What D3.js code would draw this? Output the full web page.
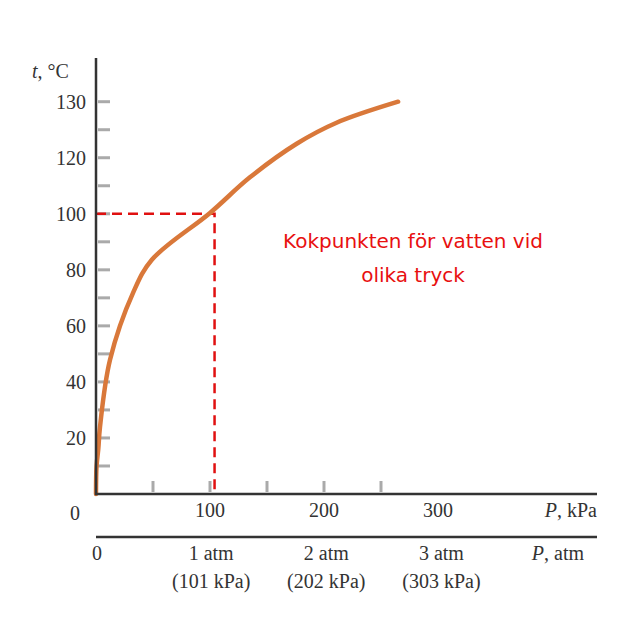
<!DOCTYPE html>
<html><head><meta charset="utf-8">
<script src="https://cdn.jsdelivr.net/npm/d3@7"></script>
<style>body{margin:0;background:#fff}</style>
</head><body>
<script>
// boiling point of water vs pressure
const pressureKPa = [0, 0.5, 2, 3.5, 12.3, 32.5, 49, 100, 135, 176, 211, 265];
const tempC       = [0, 10, 16, 23.9, 47.9, 71.8, 83.6, 100.3, 113, 125, 132.5, 140];
const yTickVals = [20, 40, 60, 80, 100, 120, 140];
const yTickLabels = ["20", "40", "60", "80", "100", "120", "130"];
const yMinor = d3.range(10, 141, 10);
const xTickVals = [100, 200, 300];
const xMinor = [50, 100, 150, 200, 250];
const atmVals = [101, 202, 303];
const atmLabels = ["1 atm", "2 atm", "3 atm"];
const atmSub = ["(101 kPa)", "(202 kPa)", "(303 kPa)"];
const refP = 104, refT = 100;

const W = 643, H = 622;
const x = d3.scaleLinear().domain([0, 300]).range([96, 438]);
const y = d3.scaleLinear().domain([0, 140]).range([494, 101.7]);

const svg = d3.select("body").append("svg").attr("width", W).attr("height", H);
const serif = "'Liberation Serif', 'DejaVu Serif', serif";
const axisCol = "#333";

// minor ticks
svg.append("g").selectAll("line").data(yMinor).join("line")
  .attr("x1", 98).attr("x2", 110).attr("y1", d => y(d)).attr("y2", d => y(d))
  .attr("stroke", "#aaa").attr("stroke-width", 3);
svg.append("g").selectAll("line").data(xMinor).join("line")
  .attr("x1", d => x(d)).attr("x2", d => x(d)).attr("y1", 492).attr("y2", 481)
  .attr("stroke", "#aaa").attr("stroke-width", 3);

// dashed reference
svg.append("path")
  .attr("d", `M${x(0)},${y(refT)}H${x(refP)}V${y(0)}`)
  .attr("fill", "none").attr("stroke", "#e01010").attr("stroke-width", 2.5)
  .attr("stroke-dasharray", "10,6");

// curve
const line = d3.line().x(d => x(d[0])).y(d => y(d[1])).curve(d3.curveCatmullRom.alpha(0.5));
svg.append("path")
  .datum(pressureKPa.map((p, i) => [p, tempC[i]]))
  .attr("d", line)
  .attr("fill", "none").attr("stroke", "#d9783a").attr("stroke-width", 4.5)
  .attr("stroke-linecap", "round");

// axes lines
svg.append("path").attr("d", `M96,58V494H597`).attr("fill", "none")
  .attr("stroke", axisCol).attr("stroke-width", 2.5);
svg.append("line").attr("x1", 96).attr("x2", 597).attr("y1", 537).attr("y2", 537)
  .attr("stroke", axisCol).attr("stroke-width", 2.5);

const txt = (sel) => sel.attr("font-family", serif).attr("font-size", 20).attr("fill", "#333");

svg.append("g").selectAll("text").data(yTickVals).join("text")
  .call(txt).attr("x", 86).attr("y", d => y(d)).attr("dy", "0.35em")
  .attr("text-anchor", "end").text((d, i) => yTickLabels[i]);
const tl = svg.append("text").call(txt).attr("x", 32).attr("y", 78);
tl.append("tspan").attr("font-style", "italic").text("t");
tl.append("tspan").text(", °C");

svg.append("text").call(txt).attr("x", 75).attr("y", 520).attr("text-anchor", "middle").text("0");
svg.append("g").selectAll("text").data(xTickVals).join("text")
  .call(txt).attr("x", d => x(d)).attr("y", 517).attr("text-anchor", "middle").text(d => d);
const pk = svg.append("text").call(txt).attr("x", 597).attr("y", 517).attr("text-anchor", "end");
pk.append("tspan").attr("font-style", "italic").text("P");
pk.append("tspan").text(", kPa");

svg.append("text").call(txt).attr("x", 97).attr("y", 560).attr("text-anchor", "middle").text("0");
svg.append("g").selectAll("text").data(atmVals).join("text")
  .call(txt).attr("x", d => x(d)).attr("y", 560).attr("text-anchor", "middle").text((d, i) => atmLabels[i]);
svg.append("g").selectAll("text").data(atmVals).join("text")
  .call(txt).attr("x", d => x(d)).attr("y", 588).attr("text-anchor", "middle").text((d, i) => atmSub[i]);
const pa = svg.append("text").call(txt).attr("x", 584).attr("y", 560).attr("text-anchor", "end");
pa.append("tspan").attr("font-style", "italic").text("P");
pa.append("tspan").text(", atm");

// annotation
svg.append("g").selectAll("text").data(["Kokpunkten för vatten vid", "olika tryck"]).join("text")
  .attr("x", 413).attr("y", (d, i) => 248 + i * 34).attr("text-anchor", "middle")
  .attr("font-family", "'Comic Sans MS', 'DejaVu Sans', sans-serif").attr("font-size", 20)
  .attr("fill", "#e81010").text(d => d);
</script>
</body></html>
